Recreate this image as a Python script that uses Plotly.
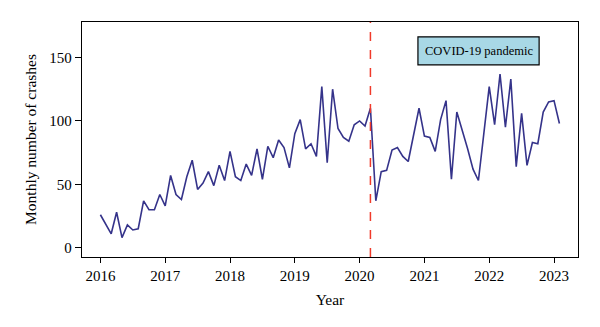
import plotly.graph_objects as go

years = [2016, 2017, 2018, 2019, 2020, 2021, 2022, 2023]
crashes_2016 = [26, 18, 11, 28, 8, 18, 14, 15, 37, 30, 30, 42]
crashes_2017 = [33, 57, 42, 38, 56, 69, 46, 51, 60, 49, 65, 53]
crashes_2018 = [76, 56, 53, 66, 57, 78, 54, 80, 71, 85, 79, 63]
crashes_2019 = [90, 101, 78, 82, 72, 127, 67, 125, 94, 87, 84, 97]
crashes_2020 = [100, 96, 110, 37, 60, 61, 77, 79, 72, 68, 88, 110]
crashes_2021 = [88, 87, 76, 101, 116, 54, 107, 93, 78, 62, 53, 90]
crashes_2022 = [127, 97, 137, 95, 133, 64, 106, 65, 83, 82, 107, 115]
crashes_2023 = [116, 98]

series = [crashes_2016, crashes_2017, crashes_2018, crashes_2019,
          crashes_2020, crashes_2021, crashes_2022, crashes_2023]

x_vals, y_vals = [], []
for yr, vals in zip(years, series):
    for m, v in enumerate(vals):
        x_vals.append(yr + m / 12)
        y_vals.append(v)

covid_start = 2020 + 2 / 12
label_text = "COVID-19 pandemic"
serif = "Liberation Serif"

fig = go.Figure()
fig.add_trace(go.Scatter(x=x_vals, y=y_vals, mode="lines",
                         line=dict(color="#35338a", width=1.6),
                         showlegend=False, hoverinfo="skip"))

fig.add_shape(type="line", x0=covid_start, x1=covid_start, y0=0, y1=1,
              xref="x", yref="paper",
              line=dict(color="#f03a2a", width=1.5, dash="dash"))

fig.add_shape(type="rect", x0=2020.90, x1=2022.77, y0=144.2, y1=166.3,
              xref="x", yref="y", fillcolor="#a8d8e6",
              line=dict(color="black", width=1.2), layer="above")
fig.add_annotation(x=2021.835, y=155.3, xref="x", yref="y", text=label_text,
                   showarrow=False, font=dict(family=serif, size=12.5, color="black"))

fig.update_layout(
    width=600, height=327,
    margin=dict(l=82, r=22, t=22, b=70),
    paper_bgcolor="white", plot_bgcolor="white",
    font=dict(family=serif, color="black", size=15),
)
fig.update_xaxes(range=[2015.716, 2023.37], tickvals=years,
                 ticktext=[str(y) for y in years],
                 showline=True, linecolor="black", linewidth=1.3, mirror=True,
                 ticks="outside", ticklen=5, tickwidth=1.2, tickcolor="black",
                 showgrid=False, zeroline=False,
                 title=dict(text="Year", font=dict(family=serif, size=15.5), standoff=10),
                 tickfont=dict(family=serif, size=15))
fig.update_yaxes(range=[-7.3, 178], tickvals=[0, 50, 100, 150],
                 showline=True, linecolor="black", linewidth=1.3, mirror=True,
                 ticks="outside", ticklen=6, tickwidth=1.2, tickcolor="black",
                 showgrid=False, zeroline=False,
                 title=dict(text="Monthly number of crashes", font=dict(family=serif, size=15.5), standoff=8),
                 tickfont=dict(family=serif, size=15))

fig.write_html("out.html")
